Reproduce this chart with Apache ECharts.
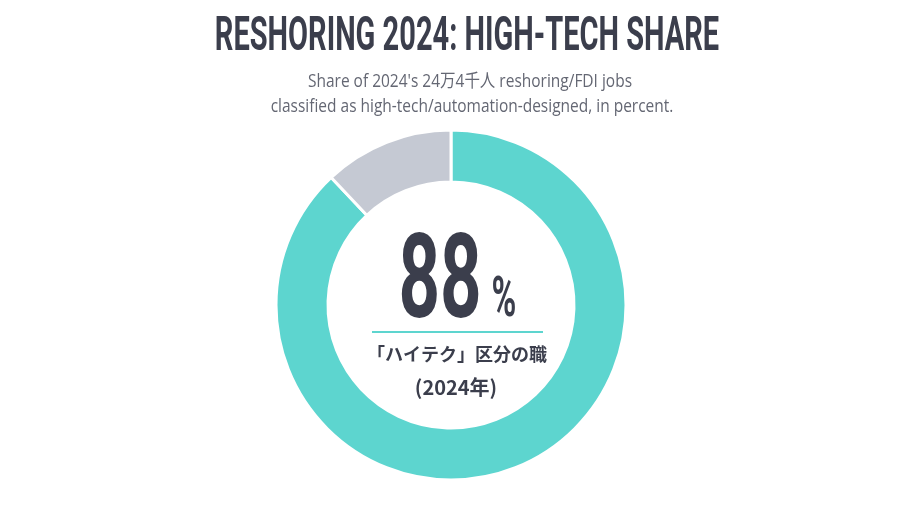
<!DOCTYPE html>
<html>
<head>
<meta charset="utf-8">
<script src="https://cdn.jsdelivr.net/npm/echarts@6/dist/echarts.min.js"></script>
<style>
  html, body { margin: 0; padding: 0; background: #fff; }
  #main { width: 900px; height: 506px; }
</style>
</head>
<body>
<div id="main"></div>
<script>
// 数据
var categories = ['High-tech / automation-designed', 'Other'];
var shareValues = [88, 12];
var centerValue = '88';
var titleText = 'RESHORING 2024: HIGH-TECH SHARE';
var subLines = [
  "Share of 2024's 24万4千人 reshoring/FDI jobs",
  'classified as high-tech/automation-designed, in percent.'
];
var centerLabels = ['「ハイテク」区分の職', '(2024年)'];

(function () {
  var myChart = echarts.init(document.getElementById('main'));

  var dark = '#3b3e4c';
  var teal = '#5dd5cf';
  var grey = '#c5c9d3';
  var cjk = '"Noto Sans CJK JP"';

  var option = {
    backgroundColor: '#fff',
    animation: false,
    color: [teal, grey],
    series: [{
      type: 'pie',
      center: [451, 305],
      radius: [123, 175],
      startAngle: 90,
      clockwise: true,
      silent: true,
      label: { show: false },
      labelLine: { show: false },
      itemStyle: {
        borderColor: '#fff',
        borderWidth: 3
      },
      data: categories.map(function (c, i) {
        return { name: c, value: shareValues[i] };
      })
    }],
    graphic: [
      // 标题
      {
        type: 'text', x: 467, y: 38, scaleX: 0.592,
        style: {
          text: titleText,
          font: 'bold 49px Roboto',
          fill: dark, textAlign: 'center', textVerticalAlign: 'middle'
        }
      },
      {
        type: 'text', x: 470, y: 82, scaleX: 0.86,
        style: {
          text: subLines[0],
          font: '18px "Open Sans", ' + cjk,
          fill: '#646773', textAlign: 'center', textVerticalAlign: 'middle'
        }
      },
      {
        type: 'text', x: 472, y: 107, scaleX: 0.86,
        style: {
          text: subLines[1],
          font: '18px "Open Sans", ' + cjk,
          fill: '#646773', textAlign: 'center', textVerticalAlign: 'middle'
        }
      },
      // 中心数字
      {
        type: 'text', x: 440, y: 288, scaleX: 0.62,
        style: {
          text: centerValue,
          font: 'bold 117px Roboto',
          fill: dark, textAlign: 'center', textVerticalAlign: 'middle'
        }
      },
      {
        type: 'text', x: 504, y: 302, scaleX: 0.6,
        style: {
          text: '%',
          font: 'bold 56px Roboto',
          fill: dark, textAlign: 'center', textVerticalAlign: 'middle'
        }
      },
      {
        type: 'line',
        shape: { x1: 372, y1: 332, x2: 543, y2: 332 },
        style: { stroke: teal, lineWidth: 2 }
      },
      {
        type: 'text', x: 457, y: 354,
        style: {
          text: centerLabels[0],
          font: 'bold 18px ' + cjk,
          fill: dark, textAlign: 'center', textVerticalAlign: 'middle'
        }
      },
      {
        type: 'text', x: 456, y: 387,
        style: {
          text: centerLabels[1],
          font: 'bold 20px ' + cjk,
          fill: dark, textAlign: 'center', textVerticalAlign: 'middle'
        }
      }
    ]
  };

  myChart.setOption(option);
  window.addEventListener('resize', function () {
    myChart.resize();
  });
})();
</script>
</body>
</html>
